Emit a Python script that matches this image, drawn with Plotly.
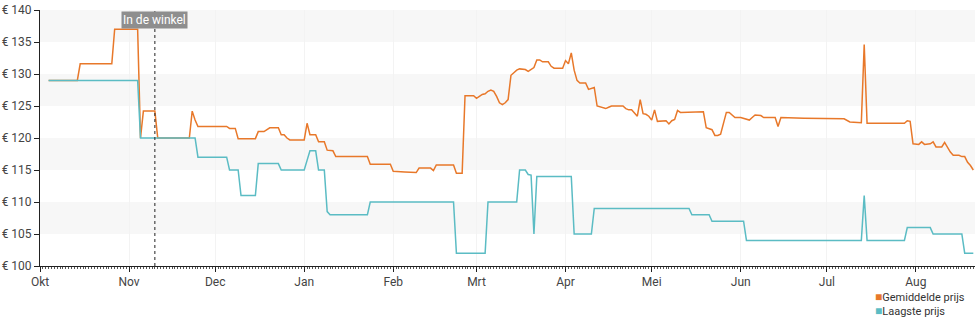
import plotly.graph_objects as go

# Gemiddelde prijs (average price), daily observations
avg_dates = [
    "2023-10-04", "2023-10-14", "2023-10-15", "2023-10-26", "2023-10-27", "2023-11-04",
    "2023-11-05", "2023-11-06", "2023-11-10", "2023-11-11", "2023-11-22", "2023-11-23",
    "2023-11-24", "2023-11-25", "2023-12-05", "2023-12-06", "2023-12-08", "2023-12-09",
    "2023-12-15", "2023-12-16", "2023-12-18", "2023-12-19", "2023-12-20", "2023-12-23",
    "2023-12-24", "2023-12-25", "2023-12-26", "2023-12-27", "2024-01-01", "2024-01-02",
    "2024-01-03", "2024-01-05", "2024-01-06", "2024-01-08", "2024-01-09", "2024-01-11",
    "2024-01-12", "2024-01-23", "2024-01-24", "2024-01-31", "2024-02-01", "2024-02-05",
    "2024-02-09", "2024-02-10", "2024-02-14", "2024-02-15", "2024-02-16", "2024-02-22",
    "2024-02-23", "2024-02-25", "2024-02-26", "2024-02-29", "2024-03-01", "2024-03-02",
    "2024-03-03", "2024-03-04", "2024-03-05", "2024-03-06", "2024-03-07", "2024-03-08",
    "2024-03-09", "2024-03-10", "2024-03-11", "2024-03-12", "2024-03-13", "2024-03-14",
    "2024-03-15", "2024-03-16", "2024-03-17", "2024-03-18", "2024-03-19", "2024-03-20",
    "2024-03-21", "2024-03-22", "2024-03-23", "2024-03-24", "2024-03-26", "2024-03-27",
    "2024-03-28", "2024-03-31", "2024-04-01", "2024-04-02", "2024-04-03", "2024-04-04",
    "2024-04-05", "2024-04-06", "2024-04-08", "2024-04-09", "2024-04-10", "2024-04-11",
    "2024-04-12", "2024-04-13", "2024-04-14", "2024-04-15", "2024-04-16", "2024-04-17",
    "2024-04-21", "2024-04-22", "2024-04-23", "2024-04-24", "2024-04-25", "2024-04-26",
    "2024-04-27", "2024-04-28", "2024-04-29", "2024-04-30", "2024-05-01", "2024-05-02",
    "2024-05-03", "2024-05-05", "2024-05-06", "2024-05-07", "2024-05-08", "2024-05-09",
    "2024-05-10", "2024-05-11", "2024-05-19", "2024-05-20", "2024-05-21", "2024-05-22",
    "2024-05-23", "2024-05-24", "2024-05-25", "2024-05-26", "2024-05-27", "2024-05-28",
    "2024-05-29", "2024-05-30", "2024-06-01", "2024-06-02", "2024-06-03", "2024-06-04",
    "2024-06-05", "2024-06-06", "2024-06-08", "2024-06-09", "2024-06-13", "2024-06-14",
    "2024-06-15", "2024-06-22", "2024-06-23", "2024-07-07", "2024-07-08", "2024-07-09",
    "2024-07-13", "2024-07-14", "2024-07-15", "2024-07-28", "2024-07-29", "2024-07-30",
    "2024-07-31", "2024-08-01", "2024-08-02", "2024-08-03", "2024-08-04", "2024-08-06",
    "2024-08-07", "2024-08-08", "2024-08-10", "2024-08-11", "2024-08-12", "2024-08-13",
    "2024-08-14", "2024-08-16", "2024-08-17", "2024-08-18", "2024-08-19", "2024-08-20",
    "2024-08-21",
]
avg_prices = [
    129.0, 129.0, 131.6, 131.6, 137.0, 137.0,
    120.0, 124.2, 124.2, 120.0, 120.0, 124.2,
    122.8, 121.8, 121.8, 121.5, 121.5, 119.9,
    119.9, 121.0, 121.0, 121.3, 121.6, 121.6,
    120.5, 120.5, 120.0, 119.7, 119.7, 122.3,
    120.5, 120.5, 119.4, 119.4, 118.1, 118.0,
    117.1, 117.1, 115.9, 115.9, 114.8, 114.7,
    114.6, 115.3, 115.3, 114.9, 115.8, 115.8,
    114.5, 114.5, 126.6, 126.6, 126.2, 126.5,
    126.8, 126.9, 127.3, 127.5, 127.3, 126.5,
    125.5, 125.2, 125.5, 126.0, 129.8, 130.2,
    130.6, 130.8, 130.7, 130.7, 130.4, 130.7,
    131.0, 132.2, 132.2, 131.9, 131.9, 131.2,
    130.9, 130.9, 132.1, 131.6, 133.3, 130.6,
    129.0, 128.6, 128.6, 127.6, 127.8, 127.9,
    125.0, 124.9, 124.7, 124.6, 124.8, 125.0,
    125.0, 124.6, 124.4, 124.4, 123.9, 123.4,
    126.0, 123.8, 123.7, 123.4, 122.8, 124.4,
    122.6, 122.6, 122.7, 122.2, 122.7, 122.9,
    124.3, 124.0, 124.1, 121.6, 121.5, 121.3,
    120.4, 120.4, 120.6, 122.5, 124.0, 124.0,
    123.6, 123.2, 123.2, 123.1, 122.9, 122.8,
    123.2, 123.6, 123.5, 123.2, 123.2, 121.8,
    123.2, 123.2, 123.1, 123.0, 122.7, 122.5,
    122.4, 134.6, 122.3, 122.3, 122.7, 122.6,
    119.1, 119.0, 119.0, 119.4, 119.0, 119.1,
    119.4, 118.6, 118.6, 119.3, 118.5, 117.8,
    117.3, 117.3, 117.1, 117.1, 116.2, 115.7,
    115.0,
]

# Laagste prijs (lowest price)
low_dates = [
    "2023-10-04", "2023-11-04", "2023-11-05", "2023-11-24", "2023-11-25", "2023-12-05",
    "2023-12-06", "2023-12-09", "2023-12-10", "2023-12-15", "2023-12-16", "2023-12-23",
    "2023-12-24", "2024-01-01", "2024-01-02", "2024-01-03", "2024-01-05", "2024-01-06",
    "2024-01-08", "2024-01-09", "2024-01-10", "2024-01-23", "2024-01-24", "2024-02-22",
    "2024-02-23", "2024-03-04", "2024-03-05", "2024-03-15", "2024-03-16", "2024-03-18",
    "2024-03-19", "2024-03-20", "2024-03-21", "2024-03-22", "2024-04-03", "2024-04-04",
    "2024-04-10", "2024-04-11", "2024-05-14", "2024-05-15", "2024-05-21", "2024-05-22",
    "2024-06-02", "2024-06-03", "2024-07-13", "2024-07-14", "2024-07-15", "2024-07-28",
    "2024-07-29", "2024-08-06", "2024-08-07", "2024-08-17", "2024-08-18", "2024-08-21",
]
low_prices = [
    129.0, 129.0, 120.0, 120.0, 117.0, 117.0,
    115.0, 115.0, 111.0, 111.0, 116.0, 116.0,
    115.0, 115.0, 116.5, 118.0, 118.0, 115.0,
    115.0, 108.5, 108.0, 108.0, 110.0, 110.0,
    102.0, 102.0, 110.0, 110.0, 115.0, 115.0,
    114.3, 114.2, 105.0, 114.0, 114.0, 105.0,
    105.0, 109.0, 109.0, 108.0, 108.0, 107.0,
    107.0, 104.0, 104.0, 111.0, 104.0, 104.0,
    106.0, 106.0, 105.0, 105.0, 102.0, 102.0,
]

# Axis labelling
month_starts = ["2023-10-01", "2023-11-01", "2023-12-01", "2024-01-01", "2024-02-01",
                "2024-03-01", "2024-04-01", "2024-05-01", "2024-06-01", "2024-07-01",
                "2024-08-01"]
month_labels = ["Okt", "Nov", "Dec", "Jan", "Feb", "Mrt", "Apr", "Mei", "Jun", "Jul", "Aug"]
price_ticks = [100, 105, 110, 115, 120, 125, 130, 135, 140]
price_labels = [f"€ {v}" for v in price_ticks]

store_date = "2023-11-10"
store_label = "In de winkel"

series_names = ["Gemiddelde prijs", "Laagste prijs"]
colors = ["#e8782a", "#5bbcc4"]

fig = go.Figure()
fig.add_trace(go.Scatter(x=avg_dates, y=avg_prices, mode="lines", name=series_names[0],
                         line=dict(color=colors[0], width=1.5), showlegend=False))
fig.add_trace(go.Scatter(x=low_dates, y=low_prices, mode="lines", name=series_names[1],
                         line=dict(color=colors[1], width=1.5), showlegend=False))

# alternating horizontal bands
for lo in price_ticks[1::2]:
    fig.add_shape(type="rect", xref="paper", x0=0, x1=1, yref="y", y0=lo, y1=lo + 5,
                  fillcolor="#f7f7f7", line_width=0, layer="below")

# store availability marker
fig.add_shape(type="line", xref="x", x0=store_date, x1=store_date, yref="paper", y0=0, y1=1,
              line=dict(color="#222222", width=1, dash="dot"))
fig.add_annotation(x=store_date, xref="x", y=0.962, yref="paper", yanchor="middle",
                   xanchor="center", text=store_label,
                   showarrow=False, bgcolor="#8e8e8e", borderpad=1,
                   font=dict(family="Roboto", size=12, color="#ffffff"))

# legend entries
for i, (name, col) in enumerate(zip(series_names, colors)):
    fig.add_annotation(
        x=0.8905, xref="paper", y=-0.121 - 0.055 * i, yref="paper",
        xanchor="left", yanchor="middle", showarrow=False,
        text=f'<span style="color:{col};font-size:12px">■</span>{name}',
        font=dict(family="Roboto", size=11, color="#333333"))

fig.update_layout(
    width=980, height=325,
    margin=dict(l=40, r=5, t=10, b=59, autoexpand=False),
    paper_bgcolor="#ffffff", plot_bgcolor="#ffffff",
    font=dict(family="Roboto", size=12, color="#444444"),
    showlegend=False,
)
fig.update_xaxes(
    type="date", range=["2023-10-01", "2024-08-21 14:00"],
    tickvals=month_starts, ticktext=month_labels,
    ticks="outside", ticklen=5, tickcolor="#222222",
    showline=True, linecolor="#222222", linewidth=1,
    showgrid=True, gridcolor="#f3f3f3", zeroline=False, automargin=False,
    tickfont=dict(family="Roboto", size=12, color="#444444"),
    minor=dict(dtick=86400000, ticks="outside", ticklen=2, tickcolor="#555555", showgrid=False),
)
fig.update_yaxes(
    range=[100, 140], tickvals=price_ticks, ticktext=price_labels,
    ticks="outside", ticklen=5, tickcolor="#222222",
    showline=True, linecolor="#222222", linewidth=1,
    showgrid=False, zeroline=False, automargin=False,
    tickfont=dict(family="Roboto", size=12, color="#444444"),
)

fig.write_html("out.html")
